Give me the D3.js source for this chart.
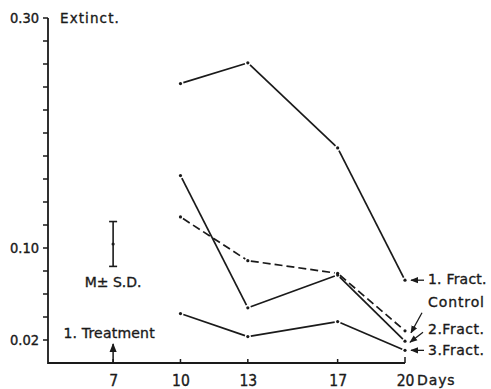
<!DOCTYPE html>
<html>
<head>
<meta charset="utf-8">
<script src="https://cdn.jsdelivr.net/npm/d3@7"></script>
<style>
  body { margin: 0; background: #fff; }
  svg text { font-family: "DejaVu Sans", sans-serif; fill: #1a1a1a; stroke: #1a1a1a; stroke-width: 0.35px; }
  svg text.num { font-family: "Liberation Sans Narrow", "DejaVu Sans Condensed", sans-serif; }
</style>
</head>
<body>
<div id="chart"></div>
<script>
// days of measurement
const days = [10, 13, 17, 20];
// extinction values per group
const fract1 = [0.243, 0.261, 0.187, 0.072];
const fract2 = [0.163, 0.048, 0.0765, 0.019];
const control = [0.127, 0.089, 0.078, 0.028];
const fract3 = [0.043, 0.023, 0.036, 0.011];
const seriesNames = ['1. Fract.', 'Control', '2.Fract.', '3.Fract.'];
// axis ticks
const yTicks = [0.02, 0.04, 0.06, 0.08, 0.10, 0.12, 0.14, 0.16, 0.18, 0.20, 0.22, 0.24, 0.26, 0.28, 0.30];
const yLabelled = [0.02, 0.10, 0.30];
const xTicks = [7, 10, 13, 17, 20];
// M ± S.D. marker and treatment day
const sdDay = 7, sdMean = 0.1035, sdDev = 0.0195;
const treatmentDay = 7;

const width = 491, height = 389;
const svg = d3.select('#chart').append('svg')
  .attr('width', width)
  .attr('height', height);

const x = d3.scaleLinear().domain([4.1, 20]).range([48, 405]);
const y = d3.scaleLinear().domain([0, 0.30]).range([363, 18]);
const ink = '#1a1a1a';

// tick labels through d3 axes (their own lines removed)
const yAxis = svg.append('g')
  .attr('transform', `translate(${x(4.1)},0)`)
  .call(d3.axisLeft(y).tickValues(yTicks).tickSize(5).tickSizeOuter(0).tickPadding(4)
    .tickFormat(d => yLabelled.some(v => Math.abs(v - d) < 1e-6) ? d3.format('.2f')(d) : ''));
yAxis.select('.domain').remove();
yAxis.selectAll('.tick line').remove();
yAxis.selectAll('.tick text').attr('class', 'num')
  .attr('font-size', 14.5).attr('fill', ink);

const xAxis = svg.append('g')
  .attr('transform', `translate(0,${y(0)})`)
  .call(d3.axisBottom(x).tickValues(xTicks).tickSize(0).tickSizeOuter(0).tickPadding(12)
    .tickFormat(d => d));
xAxis.select('.domain').remove();
xAxis.selectAll('.tick line').remove();
xAxis.selectAll('.tick text').attr('class', 'num').attr('font-size', 15.5).attr('fill', ink);
svg.append('text')
  .attr('x', x(20) + 12).attr('y', y(0) + 22)
  .attr('font-size', 14).attr('letter-spacing', 0.9)
  .text('Days');

svg.append('text')
  .attr('x', 60).attr('y', 23)
  .attr('font-size', 13.5).attr('letter-spacing', 1.1)
  .text('Extinct.');

// lines, drawn as segments that stop short of the points
const groups = [
  { values: fract1, dash: null },
  { values: control, dash: '8,4' },
  { values: fract2, dash: null },
  { values: fract3, dash: null }
];
const gap = 3;
groups.forEach(g => {
  const pts = days.map((d, i) => [x(d), y(g.values[i])]);
  const segs = d3.pairs(pts).map(([a, b]) => {
    const dx = b[0] - a[0], dy = b[1] - a[1];
    const len = Math.hypot(dx, dy);
    const ux = dx / len, uy = dy / len;
    return [a[0] + ux * gap, a[1] + uy * gap, b[0] - ux * gap, b[1] - uy * gap];
  });
  svg.append('g').selectAll('line').data(segs).enter().append('line')
    .attr('x1', s => s[0]).attr('y1', s => s[1])
    .attr('x2', s => s[2]).attr('y2', s => s[3])
    .attr('stroke', ink).attr('stroke-width', 1.7)
    .attr('stroke-dasharray', g.dash);
  svg.append('g').selectAll('circle').data(pts).enter().append('circle')
    .attr('cx', p => p[0]).attr('cy', p => p[1]).attr('r', 1.6)
    .attr('fill', ink);
});

// arrow marker
svg.append('defs').append('marker')
  .attr('id', 'head')
  .attr('viewBox', '0 0 10 10')
  .attr('refX', 9).attr('refY', 5)
  .attr('markerWidth', 6).attr('markerHeight', 6)
  .attr('orient', 'auto')
  .append('path').attr('d', 'M0,1L10,5L0,9Z').attr('fill', ink);

// end labels with arrows
const x20 = x(20);
const labelPos = [
  { text: seriesNames[0], ty: y(fract1[3]) + 4, ls: 0.2, from: [x20 + 19, y(fract1[3])], to: [x20 + 6, y(fract1[3])] },
  { text: seriesNames[1], ty: y(control[3]) - 24, ls: 0.9, from: [x20 + 17, y(control[3]) - 18], to: [x20 + 6, y(control[3]) + 2] },
  { text: seriesNames[2], ty: y(fract2[3]) - 7, ls: 0.5, from: [x20 + 18, y(fract2[3]) - 9], to: [x20 + 5, y(fract2[3]) + 1] },
  { text: seriesNames[3], ty: y(fract3[3]) + 5, ls: 0.5, from: [x20 + 19, y(fract3[3])], to: [x20 + 6, y(fract3[3])] }
];
labelPos.forEach(l => {
  svg.append('line')
    .attr('x1', l.from[0]).attr('y1', l.from[1])
    .attr('x2', l.to[0]).attr('y2', l.to[1])
    .attr('stroke', ink).attr('stroke-width', 1.3)
    .attr('marker-end', 'url(#head)');
  svg.append('text')
    .attr('x', x20 + 23).attr('y', l.ty)
    .attr('font-size', 14).attr('letter-spacing', l.ls)
    .text(l.text);
});

// M ± S.D. error bar
const sdx = x(sdDay);
svg.append('line')
  .attr('x1', sdx).attr('x2', sdx)
  .attr('y1', y(sdMean + sdDev)).attr('y2', y(sdMean - sdDev))
  .attr('stroke', ink).attr('stroke-width', 1.6);
[sdMean + sdDev, sdMean - sdDev].forEach(v => {
  svg.append('line')
    .attr('x1', sdx - 4).attr('x2', sdx + 4)
    .attr('y1', y(v)).attr('y2', y(v))
    .attr('stroke', ink).attr('stroke-width', 1.6);
});
svg.append('circle').attr('cx', sdx).attr('cy', y(sdMean)).attr('r', 1.6).attr('fill', ink);
svg.append('text')
  .attr('x', sdx).attr('y', y(sdMean - sdDev) + 21)
  .attr('text-anchor', 'middle')
  .attr('font-size', 14).attr('letter-spacing', 0)
  .text('M\u00b1 S.D.');

// treatment marker
svg.append('line')
  .attr('x1', x(treatmentDay)).attr('x2', x(treatmentDay))
  .attr('y1', y(0)).attr('y2', y(0) - 19)
  .attr('stroke', ink).attr('stroke-width', 1.5)
  .attr('marker-end', 'url(#head)');
svg.append('text')
  .attr('x', x(treatmentDay) - 4).attr('y', y(0) - 25)
  .attr('text-anchor', 'middle')
  .attr('font-size', 14).attr('letter-spacing', 0.2)
  .text('1. Treatment');

// axis frame: one path for both axis lines, drawn last
const x0 = x.range()[0], x1 = x.range()[1], yTop = y.range()[1], yBase = y.range()[0];
svg.append('path')
  .attr('d', `M${x0},${yTop}L${x0},${yBase}L${x1},${yBase}`)
  .attr('fill', 'none').attr('stroke', ink).attr('stroke-width', 1.8);
svg.append('path')
  .attr('d', yTicks.map(t => `M${x0 - 5},${y(t)}H${x0}`).join('')
    + xTicks.map(t => `M${x(t)},${yBase}V${yBase - (t === 20 ? 6 : 4)}`).join(''))
  .attr('fill', 'none').attr('stroke', ink).attr('stroke-width', 1.5);
</script>
</body>
</html>
